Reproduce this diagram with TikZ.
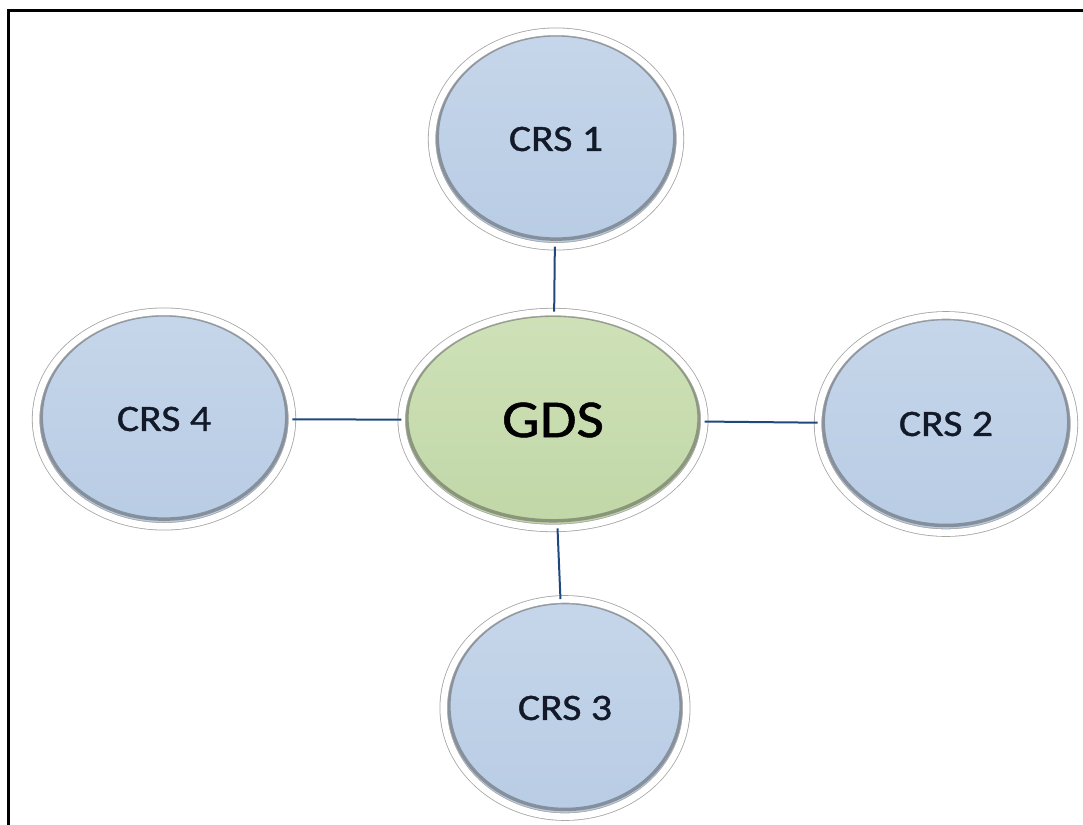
\documentclass[tikz,border=0pt]{standalone}
\usepackage{fontspec}
\setmainfont{Carlito}
\newfontfamily\labelfont{Carlito}[FakeBold=0.9]
\usetikzlibrary{shapes.geometric,shadows,calc}

\definecolor{crsfill}{RGB}{184,204,228}
\definecolor{crsfilltop}{RGB}{198,214,234}
\definecolor{gdsfill}{RGB}{193,215,167}
\definecolor{gdsfilltop}{RGB}{206,225,184}
\definecolor{linkblue}{RGB}{31,73,125}
\definecolor{labelnavy}{RGB}{18,26,42}
\definecolor{rimgray}{RGB}{165,165,165}
\definecolor{rimdark}{RGB}{70,70,70}

\tikzset{
  bubble/.style={ellipse, draw=rimgray, line width=0.6pt,
    double=white, double distance=5pt,
    drop shadow={opacity=0.2, shadow xshift=1.2pt, shadow yshift=-1.5pt},
    inner sep=0pt, text=labelnavy,
    path picture={
      % inner shading rim, heavier towards the bottom
      \draw[rimdark, line width=2.6pt, opacity=0.45]
        let \p1=($(path picture bounding box.north east)-(path picture bounding box.center)$)
        in ([yshift=1.5pt]path picture bounding box.center)
           ellipse [x radius={\x1-3.9pt}, y radius={\y1-3.9pt}];
    }},
  crs/.style={bubble, top color=crsfilltop, bottom color=crsfill,
    font=\labelfont\fontsize{28}{30}\selectfont},
  gds/.style={bubble, top color=gdsfilltop, bottom color=gdsfill,
    text=black, font=\labelfont\fontsize{40}{44}\selectfont},
  link/.style={draw=linkblue, line width=1.5pt},
  frame/.style={draw=black, line width=2.2pt}
}

\newcommand{\widen}[1]{\scalebox{1.12}[1]{#1}}

\begin{document}
\begin{tikzpicture}[x=0.75pt, y=-0.75pt]
  \useasboundingbox (0,0) rectangle (1083,825);
  \fill[white] (0,0) rectangle (1083,825);

  % outer frame: only the left and top edges fall inside the page
  \draw[frame] (8.5,825) -- (8.5,10.5) -- (1083,10.5);

  % bubbles
  \node[gds, minimum width=227pt, minimum height=162pt] (gds) at (553,420) {\widen{GDS}};
  \node[crs, minimum width=186pt, minimum height=161pt] (crs1) at (556,139) {\widen{CRS 1}};
  \node[crs, minimum width=192pt, minimum height=163pt] (crs2) at (946,424) {\widen{CRS 2}};
  \node[crs, minimum width=182pt, minimum height=163pt] (crs3) at (565,708) {\widen{CRS 3}};
  \node[crs, minimum width=192pt, minimum height=161pt] (crs4) at (164,419) {\widen{CRS 4}};

  % links from the hub to each station
  \draw[link] (crs1) -- (gds);
  \draw[link] (gds) -- (crs2);
  \draw[link] (gds) -- (crs3);
  \draw[link] (crs4) -- (gds);
\end{tikzpicture}
\end{document}
